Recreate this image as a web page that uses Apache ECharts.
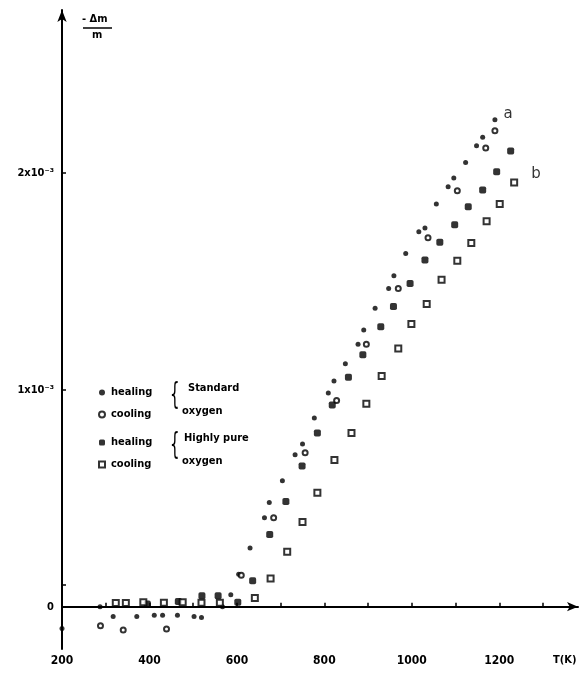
<!DOCTYPE html>
<html><head><meta charset="utf-8">
<script src="https://cdn.jsdelivr.net/npm/echarts@6/dist/echarts.min.js"></script>
<style>html,body{margin:0;padding:0;background:#fff}#c{width:582px;height:674px}</style>
</head><body><div id="c"></div>
<script>
// Values in units of 1e-3 (−Δm/m), temperature in K
const aHeatT = [200, 287, 317, 371, 411, 430, 464, 502, 519, 567, 586, 604, 630, 663, 674, 704, 733, 750, 777, 809, 822, 848, 877, 890, 916, 947, 959, 986, 1016, 1030, 1056, 1083, 1096, 1123, 1148, 1162, 1190];
const aHeatV = [-0.10, 0.00, -0.045, -0.045, -0.04, -0.04, -0.04, -0.045, -0.05, 0.00, 0.055, 0.15, 0.27, 0.41, 0.48, 0.58, 0.70, 0.75, 0.87, 0.985, 1.04, 1.12, 1.21, 1.275, 1.376, 1.467, 1.525, 1.628, 1.728, 1.745, 1.856, 1.935, 1.976, 2.047, 2.124, 2.163, 2.244];
const aCoolT = [288, 340, 439, 610, 684, 756, 828, 896, 969, 1037, 1104, 1169, 1190];
const aCoolV = [-0.088, -0.107, -0.103, 0.145, 0.41, 0.71, 0.95, 1.21, 1.467, 1.70, 1.917, 2.114, 2.194];
const bHeatT = [395, 466, 520, 557, 602, 636, 675, 712, 749, 784, 818, 855, 888, 929, 958, 996, 1030, 1064, 1098, 1129, 1162, 1194, 1226];
const bHeatV = [0.012, 0.024, 0.05, 0.05, 0.02, 0.12, 0.333, 0.485, 0.648, 0.80, 0.93, 1.057, 1.161, 1.29, 1.384, 1.49, 1.598, 1.68, 1.76, 1.843, 1.92, 2.005, 2.10];
const bCoolT = [323, 346, 386, 433, 476, 519, 561, 641, 677, 715, 750, 784, 823, 862, 896, 931, 969, 999, 1034, 1068, 1104, 1136, 1171, 1201, 1234];
const bCoolV = [0.017, 0.017, 0.02, 0.018, 0.02, 0.018, 0.018, 0.04, 0.13, 0.253, 0.39, 0.525, 0.676, 0.80, 0.935, 1.063, 1.19, 1.303, 1.395, 1.507, 1.594, 1.676, 1.776, 1.856, 1.955];
const xLabels = [200, 400, 600, 800, 1000, 1200];
const xTicks = [300, 400, 500, 600, 700, 800, 900, 1000, 1100, 1200, 1300];
const yLabels = [0, 1, 2];
const yLabelText = {0: '0', 1: '1x10⁻³', 2: '2x10⁻³'};
const seriesNames = ['a-heat', 'a-cool', 'b-heat', 'b-cool'];
const legendText = {'a-heat': 'healing', 'a-cool': 'cooling', 'b-heat': 'healing', 'b-cool': 'cooling'};

const FONT = "'DejaVu Sans Condensed', 'Liberation Sans', sans-serif";
const zip = (T, V) => T.map((t, i) => [t, V[i]]);
const withEndLabel = (pts, txt, offset) => pts.map((p, i) => i === pts.length - 1
  ? {value: p, label: {show: true, formatter: txt, position: 'right', offset: offset, color: '#000', fontSize: 15, fontFamily: 'DejaVu Sans'}}
  : p);
const legendCommon = {orient: 'vertical', left: 93, itemGap: 11, itemWidth: 6, itemHeight: 6,
  formatter: n => legendText[n], selectedMode: false,
  textStyle: {fontSize: 11, fontWeight: 'bold', fontFamily: FONT, color: '#000', padding: [0, 0, 0, 1]}};

const chart = echarts.init(document.getElementById('c'));
chart.setOption({
  animation: false,
  backgroundColor: '#fff',
  grid: {left: 62, right: 4, top: 10, bottom: 25},
  xAxis: {
    type: 'value', min: 200, max: 1380,
    axisLine: {lineStyle: {color: '#000', width: 2}, symbol: ['none', 'arrow'], symbolSize: [7, 11]},
    axisTick: {inside: true, length: 4, lineStyle: {color: '#000', width: 1.5}, customValues: xTicks},
    axisLabel: {customValues: xLabels, formatter: v => String(v), color: '#000', fontSize: 12, fontWeight: 'bold', fontFamily: FONT, margin: 6},
    splitLine: {show: false}
  },
  yAxis: {
    type: 'value', min: -0.195, max: 2.75,
    axisLine: {lineStyle: {color: '#000', width: 2}, symbol: ['none', 'arrow'], symbolSize: [7, 12]},
    axisTick: {inside: true, length: 4, lineStyle: {color: '#000', width: 1.5}, customValues: [0, 0.1, 1, 2]},
    axisLabel: {customValues: yLabels, formatter: v => yLabelText[v] || '', color: '#000', fontSize: 11, fontWeight: 'bold', fontFamily: FONT, margin: 8},
    splitLine: {show: false}
  },
  legend: [
    Object.assign({data: ['a-heat', 'a-cool'], top: 382}, legendCommon),
    Object.assign({data: ['b-heat', 'b-cool'], top: 432}, legendCommon)
  ],
  series: [
    {name: 'a-heat', type: 'scatter', symbol: 'circle', symbolSize: 5, itemStyle: {color: '#000'},
     data: withEndLabel(zip(aHeatT, aHeatV), 'a', [1, -6])},
    {name: 'a-cool', type: 'scatter', symbol: 'emptyCircle', symbolSize: 5, itemStyle: {color: '#000', borderColor: '#000', borderWidth: 1.5},
     data: zip(aCoolT, aCoolV)},
    {name: 'b-heat', type: 'scatter', symbol: 'roundRect', symbolSize: 7, itemStyle: {color: '#000'},
     data: zip(bHeatT, bHeatV)},
    {name: 'b-cool', type: 'scatter', symbol: 'emptyRect', symbolSize: 6, itemStyle: {color: '#000', borderColor: '#000', borderWidth: 1.6},
     data: withEndLabel(zip(bCoolT, bCoolV), 'b', [8, -8])}
  ],
  graphic: [
    {type: 'text', left: 82, top: 14, style: {text: '- Δm', fontSize: 11, fontWeight: 'bold', fontFamily: FONT, fill: '#000'}},
    {type: 'line', shape: {x1: 83, y1: 28, x2: 112, y2: 28}, style: {stroke: '#000', lineWidth: 1.5}},
    {type: 'text', left: 92, top: 30, style: {text: 'm', fontSize: 11, fontWeight: 'bold', fontFamily: FONT, fill: '#000'}},
    {type: 'text', left: 553, top: 655, style: {text: 'T(K)', fontSize: 11, fontWeight: 'bold', fontFamily: FONT, fill: '#000'}},
    {type: 'text', left: 170, top: 381, style: {text: '{', fontSize: 30, fontFamily: 'DejaVu Sans', fill: '#000'}, scaleX: 0.5},
    {type: 'text', left: 170, top: 431, style: {text: '{', fontSize: 30, fontFamily: 'DejaVu Sans', fill: '#000'}, scaleX: 0.5},
    {type: 'text', left: 188, top: 383, style: {text: 'Standard', fontSize: 11, fontWeight: 'bold', fontFamily: FONT, fill: '#000'}},
    {type: 'text', left: 182, top: 406, style: {text: 'oxygen', fontSize: 11, fontWeight: 'bold', fontFamily: FONT, fill: '#000'}},
    {type: 'text', left: 184, top: 433, style: {text: 'Highly pure', fontSize: 11, fontWeight: 'bold', fontFamily: FONT, fill: '#000'}},
    {type: 'text', left: 182, top: 456, style: {text: 'oxygen', fontSize: 11, fontWeight: 'bold', fontFamily: FONT, fill: '#000'}}
  ]
});
</script></body></html>
